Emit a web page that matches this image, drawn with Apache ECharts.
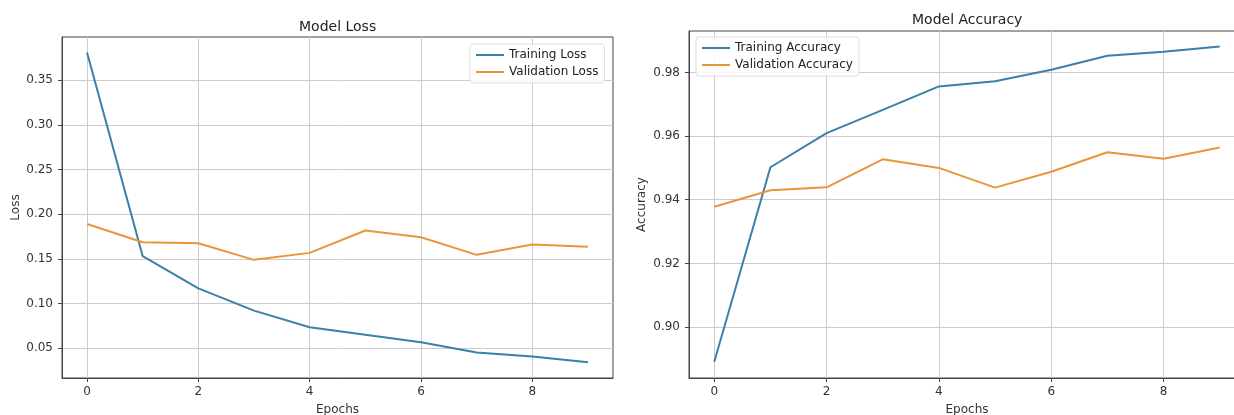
<!DOCTYPE html>
<html>
<head>
<meta charset="utf-8">
<script src="https://cdn.jsdelivr.net/npm/echarts@6/dist/echarts.min.js"></script>
<style>
html,body{margin:0;padding:0;background:#fff;}
#chart{width:1234px;height:415px;}
</style>
</head>
<body>
<div id="chart"></div>
<script>
const epochs = [0, 1, 2, 3, 4, 5, 6, 7, 8, 9];
const trainingLoss = [0.381, 0.153, 0.117, 0.092, 0.0735, 0.065, 0.0567, 0.0452, 0.0407, 0.0343];
const validationLoss = [0.189, 0.1686, 0.1675, 0.1489, 0.1567, 0.1817, 0.1742, 0.1545, 0.166, 0.1635];
const trainingAcc = [0.8891, 0.9502, 0.9609, 0.9682, 0.9756, 0.9772, 0.9808, 0.9852, 0.9865, 0.9881];
const validationAcc = [0.9378, 0.943, 0.9439, 0.9527, 0.95, 0.9438, 0.9488, 0.9549, 0.9529, 0.9564];
const xTicks = [0, 2, 4, 6, 8];
const lossTicks = [0.05, 0.10, 0.15, 0.20, 0.25, 0.30, 0.35];
const accTicks = [0.90, 0.92, 0.94, 0.96, 0.98];

const BLUE = '#3a80a8';
const ORANGE = '#e8963a';
const FONT = 'DejaVu Sans';
const GRIDC = '#cccccc';
const FRAME = '#444';

function pairs(xs, ys) { return xs.map((x, i) => [x, ys[i]]); }

function xAxisDef(gridIndex) {
  return {
    type: 'value', gridIndex: gridIndex, min: -0.45, max: 9.45,
    name: 'Epochs', nameLocation: 'middle', nameGap: 26,
    nameTextStyle: { fontFamily: FONT, fontSize: 12, color: '#333' },
    axisLine: { show: true, onZero: false, lineStyle: { color: FRAME, width: 1 } },
    axisTick: { show: true, inside: false, length: 4, customValues: xTicks, lineStyle: { color: FRAME } },
    axisLabel: { customValues: xTicks, margin: 8, fontFamily: FONT, fontSize: 12, color: '#333', formatter: v => String(v) },
    splitLine: { show: true, customValues: xTicks, lineStyle: { color: GRIDC, width: 1 } }
  };
}
function yAxisDef(gridIndex, min, max, ticks, name, gap) {
  return {
    type: 'value', gridIndex: gridIndex, min: min, max: max,
    name: name, nameLocation: 'middle', nameGap: gap, nameRotate: 90,
    nameTextStyle: { fontFamily: FONT, fontSize: 12, color: '#333' },
    axisLine: { show: true, onZero: false, lineStyle: { color: FRAME, width: 1 } },
    axisTick: { show: true, inside: false, length: 4, customValues: ticks, lineStyle: { color: FRAME } },
    axisLabel: { customValues: ticks, margin: 9, fontFamily: FONT, fontSize: 12, color: '#333', formatter: v => v.toFixed(2) },
    splitLine: { show: true, customValues: ticks, lineStyle: { color: GRIDC, width: 1 } }
  };
}
function lineSeries(name, xi, yi, data, color) {
  return {
    name: name, type: 'line', xAxisIndex: xi, yAxisIndex: yi,
    data: pairs(epochs, data), showSymbol: false, symbol: 'none',
    lineStyle: { color: color, width: 2 }, itemStyle: { color: color },
    silent: true, animation: false
  };
}

const chart = echarts.init(document.getElementById('chart'), null, { renderer: 'canvas' });
chart.setOption({
  animation: false,
  backgroundColor: '#fff',
  title: [
    { text: 'Model Loss', left: 294, top: 15, textStyle: { fontFamily: FONT, fontSize: 14, fontWeight: 'normal', color: '#222' } },
    { text: 'Model Accuracy', left: 907, top: 8, textStyle: { fontFamily: FONT, fontSize: 14, fontWeight: 'normal', color: '#222' } }
  ],
  grid: [
    { left: 62, top: 37, width: 551, height: 341, show: true, borderColor: FRAME, borderWidth: 1, containLabel: false, outerBoundsMode: 'none' },
    { left: 689, top: 31, width: 556, height: 347, show: true, borderColor: FRAME, borderWidth: 1, containLabel: false, outerBoundsMode: 'none' }
  ],
  xAxis: [xAxisDef(0), xAxisDef(1)],
  yAxis: [
    yAxisDef(0, 0.0166, 0.3984, lossTicks, 'Loss', 40),
    yAxisDef(1, 0.884, 0.993, accTicks, 'Accuracy', 41)
  ],
  legend: [
    {
      data: ['Training Loss', 'Validation Loss'], orient: 'vertical', left: 470, top: 44,
      icon: 'rect', itemWidth: 28, itemHeight: 2, itemGap: 5, padding: [5, 6, 5, 6],
      backgroundColor: 'rgba(255,255,255,0.85)', borderColor: '#ddd', borderWidth: 1, borderRadius: 3,
      textStyle: { fontFamily: FONT, fontSize: 12, color: '#222' }
    },
    {
      data: ['Training Accuracy', 'Validation Accuracy'], orient: 'vertical', left: 696, top: 37,
      icon: 'rect', itemWidth: 28, itemHeight: 2, itemGap: 5, padding: [5, 6, 5, 6],
      backgroundColor: 'rgba(255,255,255,0.85)', borderColor: '#ddd', borderWidth: 1, borderRadius: 3,
      textStyle: { fontFamily: FONT, fontSize: 12, color: '#222' }
    }
  ],
  series: [
    lineSeries('Training Loss', 0, 0, trainingLoss, BLUE),
    lineSeries('Validation Loss', 0, 0, validationLoss, ORANGE),
    lineSeries('Training Accuracy', 1, 1, trainingAcc, BLUE),
    lineSeries('Validation Accuracy', 1, 1, validationAcc, ORANGE)
  ]
});
</script>
</body>
</html>
